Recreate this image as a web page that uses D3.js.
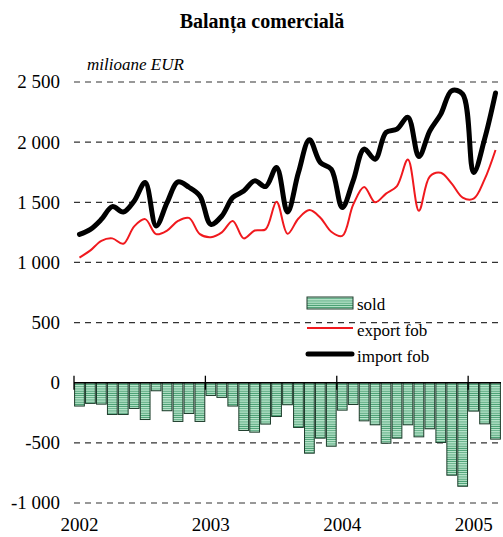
<!DOCTYPE html>
<html>
<head>
<meta charset="utf-8">
<script src="https://cdn.jsdelivr.net/npm/d3@7"></script>
<style>
  body { margin: 0; background: #fff; }
  svg text { font-family: "Liberation Serif", "Times New Roman", serif; fill: #000; }
</style>
</head>
<body>
<div id="chart"></div>
<script>
// monthly data, Jan 2002 - Mar 2005 (mil. EUR)
var years = ["2002", "2003", "2004", "2005"];
var yTicks = [2500, 2000, 1500, 1000, 500, 0, -500, -1000];

var importFob = [1233, 1275, 1358, 1464, 1419, 1511, 1664, 1303, 1497, 1669, 1625, 1553,
                 1317, 1386, 1539, 1594, 1678, 1631, 1789, 1419, 1747, 2019, 1831, 1775,
                 1456, 1680, 1942, 1858, 2081, 2108, 2206, 1881, 2094, 2233, 2428, 2400,
                 1747, 2025, 2408];
var exportFob = [1040, 1100, 1180, 1200, 1155, 1300, 1360, 1235, 1265, 1345, 1370, 1235,
                 1210, 1250, 1345, 1200, 1265, 1275, 1505, 1238, 1365, 1435, 1372, 1255,
                 1220, 1480, 1628, 1500, 1572, 1635, 1855, 1430, 1715, 1745, 1655, 1539,
                 1530, 1690, 1935];
var sold = [-194, -172, -178, -264, -264, -214, -306, -67, -233, -322, -256, -322,
            -106, -122, -194, -397, -411, -344, -281, -183, -372, -586, -461, -528,
            -228, -181, -317, -350, -503, -461, -350, -450, -383, -497, -769, -861,
            -236, -342, -469];

var W = 503, H = 537;
var svg = d3.select("#chart").append("svg")
            .attr("width", W)
            .attr("height", H);

// striped fill for the bars
var defs = svg.append("defs");
var pat = defs.append("pattern")
              .attr("id", "stripes")
              .attr("patternUnits", "userSpaceOnUse")
              .attr("width", 6)
              .attr("height", 2.2);
pat.append("rect").attr("width", 6).attr("height", 2.2).attr("fill", "#bfe8d0");
pat.append("rect").attr("y", 1.3).attr("width", 6).attr("height", 0.9).attr("fill", "#3f9a6c");

var x = d3.scaleLinear().domain([0, sold.length]).range([74, 501]);
var y = d3.scaleLinear().domain([-1000, 2500]).range([503, 82]);
var step = x(1) - x(0);

// title
svg.append("text")
   .attr("x", 262).attr("y", 28)
   .attr("text-anchor", "middle")
   .attr("font-size", "20px")
   .attr("font-weight", "bold")
   .text("Balanța comercială");

svg.append("text")
   .attr("x", 87).attr("y", 70)
   .attr("font-size", "17px")
   .attr("font-style", "italic")
   .text("milioane EUR");

// gridlines
svg.selectAll("line.grid")
   .data(yTicks.filter(function(d){ return d !== 0; }))
   .enter().append("line")
   .attr("class", "grid")
   .attr("x1", 74).attr("x2", 501)
   .attr("y1", function(d){ return y(d); })
   .attr("y2", function(d){ return y(d); })
   .attr("stroke", "#333")
   .attr("stroke-width", 1.2)
   .attr("stroke-dasharray", "6,5");

// y labels
svg.selectAll("text.ylab")
   .data(yTicks)
   .enter().append("text")
   .attr("class", "ylab")
   .attr("x", 60)
   .attr("y", function(d){ return y(d); })
   .attr("dy", "0.34em")
   .attr("text-anchor", "end")
   .attr("font-size", "19px")
   .text(function(d){ return d3.format(",")(d).replace(",", " ").replace("\u2212", "-"); });

// bars
svg.selectAll("rect.bar")
   .data(sold)
   .enter().append("rect")
   .attr("class", "bar")
   .attr("x", function(d, i){ return x(i) + 0.6; })
   .attr("y", y(0))
   .attr("width", step - 1.2)
   .attr("height", function(d){ return y(d) - y(0); })
   .attr("fill", "url(#stripes)")
   .attr("stroke", "#1e3d2c")
   .attr("stroke-width", 1);

// x axis at zero
svg.append("line")
   .attr("x1", 74).attr("x2", 501)
   .attr("y1", y(0)).attr("y2", y(0))
   .attr("stroke", "#000").attr("stroke-width", 1.5);

svg.selectAll("line.xtick")
   .data(years)
   .enter().append("line")
   .attr("class", "xtick")
   .attr("x1", function(d, i){ return x(i * 12); })
   .attr("x2", function(d, i){ return x(i * 12); })
   .attr("y1", y(0) - 7).attr("y2", y(0) + 7)
   .attr("stroke", "#000").attr("stroke-width", 1.3);

svg.selectAll("text.xlab")
   .data(years)
   .enter().append("text")
   .attr("class", "xlab")
   .attr("x", function(d, i){ return x(i * 12 + 0.5); })
   .attr("y", 531)
   .attr("text-anchor", "middle")
   .attr("font-size", "19px")
   .text(function(d){ return d; });

// lines
var line = d3.line()
             .x(function(d, i){ return x(i + 0.5); })
             .y(function(d){ return y(d); })
             .curve(d3.curveCatmullRom.alpha(0.5));

svg.append("path")
   .datum(exportFob)
   .attr("d", line)
   .attr("fill", "none")
   .attr("stroke", "#f0191e")
   .attr("stroke-width", 2);

svg.append("path")
   .datum(importFob)
   .attr("d", line)
   .attr("fill", "none")
   .attr("stroke", "#000")
   .attr("stroke-width", 5)
   .attr("stroke-linejoin", "round")
   .attr("stroke-linecap", "round");

// legend
var leg = svg.append("g");
leg.append("rect")
   .attr("x", 307).attr("y", 297).attr("width", 46).attr("height", 12)
   .attr("fill", "url(#stripes)").attr("stroke", "#1e3d2c");
leg.append("line")
   .attr("x1", 307).attr("x2", 353).attr("y1", 328).attr("y2", 328)
   .attr("stroke", "#f0191e").attr("stroke-width", 2);
leg.append("line")
   .attr("x1", 308).attr("x2", 352).attr("y1", 354).attr("y2", 354)
   .attr("stroke", "#000").attr("stroke-width", 5).attr("stroke-linecap", "round");

var legText = ["sold", "export fob", "import fob"];
leg.selectAll("text")
   .data(legText)
   .enter().append("text")
   .attr("x", 357)
   .attr("y", function(d, i){ return 310 + i * 26; })
   .attr("font-size", "17px")
   .text(function(d){ return d; });
</script>
</body>
</html>
